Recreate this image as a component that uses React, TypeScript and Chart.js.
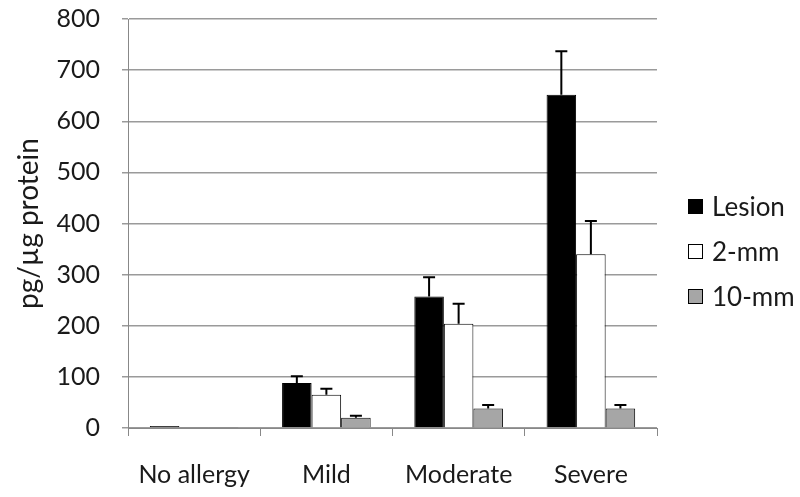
import React, { useEffect, useRef } from "react";
import { Chart, registerables } from "chart.js";

Chart.register(...registerables);

const categories = ["No allergy", "Mild", "Moderate", "Severe"];
const seriesNames = ["Lesion", "2-mm", "10-mm"];
const lesion = [4, 88, 257, 652];
const twoMm = [1, 65, 204, 340];
const tenMm = [1, 20, 38, 38];
const lesionErr = [0, 13, 38, 85];
const twoMmErr = [0, 12, 39, 65];
const tenMmErr = [0, 4, 7, 7];
const yTicks = [0, 100, 200, 300, 400, 500, 600, 700, 800];

const FONT = "Lato, 'Open Sans', sans-serif";
const TEXT = "#1a1a1a";

const errorBarPlugin = {
  id: "errorBars",
  afterDatasetsDraw(chart: any) {
    const ctx = chart.ctx;
    const yScale = chart.scales.y;
    chart.data.datasets.forEach((ds: any, di: number) => {
      const meta = chart.getDatasetMeta(di);
      const errs = ds.errors as number[];
      meta.data.forEach((el: any, i: number) => {
        const e = errs[i];
        if (!e) return;
        const v = ds.data[i] as number;
        const yTop = yScale.getPixelForValue(v + e);
        const yBase = yScale.getPixelForValue(v);
        ctx.save();
        ctx.strokeStyle = "#000";
        ctx.lineWidth = 2;
        ctx.beginPath();
        ctx.moveTo(el.x, yBase);
        ctx.lineTo(el.x, yTop);
        ctx.moveTo(el.x - 6, yTop);
        ctx.lineTo(el.x + 6, yTop);
        ctx.stroke();
        ctx.restore();
      });
    });
  },
};

// Right-side legend drawn next to the plot area
const sideLegendPlugin = {
  id: "sideLegend",
  afterDraw(chart: any) {
    const ctx = chart.ctx;
    const area = chart.chartArea;
    const boxX = area.right + 31;
    const size = 15;
    const step = 45;
    const cy0 = (area.top + area.bottom) / 2 - 17;
    ctx.save();
    chart.data.datasets.forEach((ds: any, i: number) => {
      const cy = cy0 + i * step;
      ctx.fillStyle = ds.backgroundColor;
      ctx.fillRect(boxX, cy - size / 2, size, size);
      ctx.strokeStyle = "#000";
      ctx.lineWidth = 1;
      ctx.strokeRect(boxX + 0.5, cy - size / 2 + 0.5, size - 1, size - 1);
      ctx.fillStyle = TEXT;
      ctx.font = `26px ${FONT}`;
      ctx.textBaseline = "middle";
      ctx.textAlign = "left";
      ctx.fillText(ds.label, boxX + size + 9, cy + 1);
    });
    ctx.restore();
  },
};

export default function App() {
  const ref = useRef<HTMLCanvasElement>(null);
  useEffect(() => {
    document.body.style.margin = "0";
    const chart = new Chart(ref.current!, {
      type: "bar",
      data: {
        labels: categories,
        datasets: [
          { label: seriesNames[0], data: lesion, errors: lesionErr, backgroundColor: "#000", borderColor: "#000", borderWidth: 1 } as any,
          { label: seriesNames[1], data: twoMm, errors: twoMmErr, backgroundColor: "#fff", borderColor: "#000", borderWidth: 1 } as any,
          { label: seriesNames[2], data: tenMm, errors: tenMmErr, backgroundColor: "#a6a6a6", borderColor: "#000", borderWidth: 1 } as any,
        ],
      },
      plugins: [errorBarPlugin, sideLegendPlugin],
      options: {
        animation: false,
        responsive: false,
        maintainAspectRatio: false,
        layout: { padding: { top: 19, right: 143, left: 8, bottom: 0 } },
        datasets: { bar: { categoryPercentage: 0.67, barPercentage: 1 } },
        plugins: {
          tooltip: { enabled: false },
          legend: { display: false },
        },
        scales: {
          x: {
            grid: { display: true, drawOnChartArea: false, drawTicks: true, tickLength: 8, color: "#888", offset: true },
            border: { color: "#888", width: 1 },
            ticks: { color: TEXT, font: { family: FONT, size: 25 }, padding: 24 },
            afterFit: (s: any) => { s.height = 69; s.paddingLeft = 0; s.paddingRight = 0; },
          },
          y: {
            min: 0,
            max: 800,
            afterBuildTicks: (s: any) => { s.ticks = yTicks.map((v) => ({ value: v })); },
            grid: { color: "#9a9a9a", lineWidth: 1.5, tickLength: 6 },
            border: { color: "#888", width: 1 },
            ticks: { color: TEXT, font: { family: FONT, size: 25 }, padding: 22 },
            title: { display: true, text: "pg/µg protein", color: TEXT, font: { family: FONT, size: 28 }, padding: { top: 4, bottom: 4 } },
            afterFit: (s: any) => { s.width = 120; s.paddingTop = 0; s.paddingBottom = 0; },
          },
        },
      },
    });
    return () => chart.destroy();
  }, []);
  return <canvas ref={ref} width={800} height={497} style={{ display: "block" }} />;
}
